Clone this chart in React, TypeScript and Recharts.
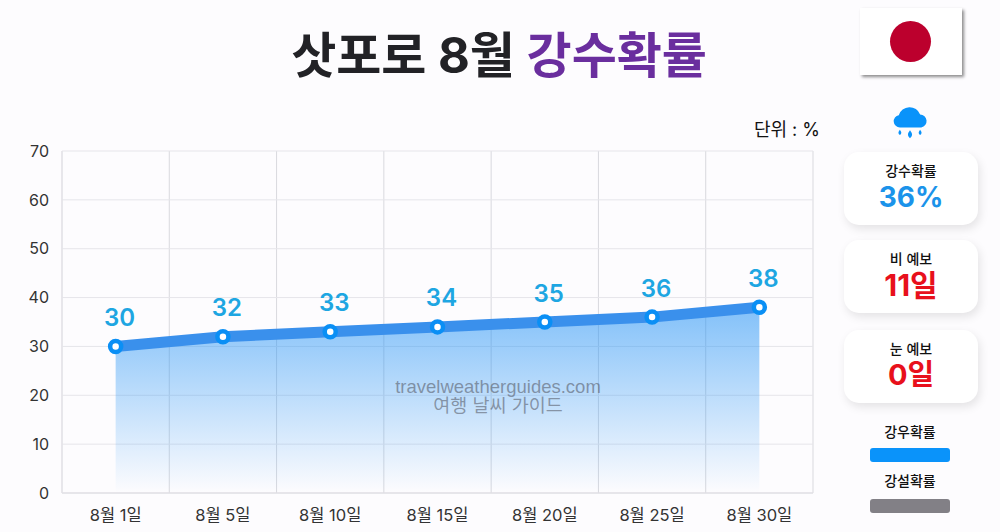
import React from "react";
import {
  ComposedChart,
  Area,
  XAxis,
  YAxis,
  CartesianGrid,
  LabelList,
} from "recharts";

const DAYS = ["8월 1일", "8월 5일", "8월 10일", "8월 15일", "8월 20일", "8월 25일", "8월 30일"];
const RAIN_PROB = [30, 32, 33, 34, 35, 36, 38];
const Y_TICKS = [0, 10, 20, 30, 40, 50, 60, 70];

const CARD_TITLES = ["강수확률", "비 예보", "눈 예보"];
const CARD_VALUES = ["36%", "11일", "0일"];
const CARD_COLORS = ["#1b93ea", "#e8101c", "#e8101c"];
const CARD_TOPS = [152, 240, 330];
const CARD_SIZES = [28, 30, 29];

const LEGEND_NAMES = ["강우확률", "강설확률"];
const LEGEND_COLORS = ["#0a93fa", "#828086"];
const LEGEND_TOPS = [421, 470];

const FONT = 'Inter, "Noto Sans CJK KR", sans-serif';

const data = DAYS.map((day, i) => ({ day, value: RAIN_PROB[i] }));

function ValueLabel(props: any) {
  const { x, y, value } = props;
  return (
    <text
      x={x + 4}
      y={y - 29}
      textAnchor="middle"
      dominantBaseline="central"
      fontFamily={FONT}
      fontSize={24}
      fontWeight={600}
      fill="#1ea6e2"
    >
      {value}
    </text>
  );
}

function RainIcon() {
  return (
    <svg
      width="36"
      height="36"
      viewBox="0 0 32 32"
      style={{ position: "absolute", left: 892, top: 105 }}
    >
      <path
        d="M7 20 a5.5 5.5 0 0 1 -1 -10.9 a10 10 0 0 1 19 -0.6 a5.8 5.8 0 0 1 1 11.5 Z"
        fill="#0a93fa"
      />
      <path d="M7 22 q-2.6 3.2 0 4.6 q2.6 -1.4 0 -4.6 Z" fill="#0a93fa" />
      <path d="M16 22.5 q-3.6 4.4 0 7 q3.6 -2.6 0 -7 Z" fill="#0a93fa" />
      <path d="M25 22 q-2.6 3.2 0 4.6 q2.6 -1.4 0 -4.6 Z" fill="#0a93fa" />
    </svg>
  );
}

export default function App() {
  return (
    <div
      style={{
        position: "absolute",
        left: 0,
        top: 0,
        width: 1000,
        height: 532,
        overflow: "hidden",
        background: "#fdfcfe",
        fontFamily: FONT,
      }}
    >
      <div
        style={{
          position: "absolute",
          left: 0,
          top: 22,
          width: 998,
          textAlign: "center",
          fontSize: 49,
          lineHeight: "68px",
          fontWeight: 700,
          color: "#222226",
          whiteSpace: "nowrap",
        }}
      >
        삿포로 8월 <span style={{ color: "#6a2e9e" }}>강수확률</span>
      </div>

      <div
        style={{
          position: "absolute",
          right: 180,
          top: 117,
          fontSize: 18,
          lineHeight: "26px",
          color: "#111",
        }}
      >
        단위 : %
      </div>

      <ComposedChart
        width={1000}
        height={532}
        data={data}
        margin={{ top: 151, right: 187, bottom: 9, left: 0 }}
        style={{ position: "absolute", left: 0, top: 0 }}
      >
        <defs>
          <linearGradient id="rainFill" x1="0" y1="0" x2="0" y2="1">
            <stop offset="0%" stopColor="#1e90f5" stopOpacity={0.55} />
            <stop offset="100%" stopColor="#1e90f5" stopOpacity={0} />
          </linearGradient>
        </defs>
        <CartesianGrid
          horizontal={false}
          stroke="#d9d9de"
          strokeWidth={1}
          verticalCoordinatesGenerator={({ offset }: any) =>
            [0, 1, 2, 3, 4, 5, 6, 7].map(
              (i) => offset.left + (i * offset.width) / DAYS.length
            )
          }
        />
        <CartesianGrid vertical={false} stroke="#e6e5ea" strokeWidth={1} />
        <XAxis
          dataKey="day"
          scale="band"
          height={30}
          tickLine={false}
          axisLine={{ stroke: "#dcdbe0" }}
          tick={{ fill: "#333", fontSize: 16.5, fontFamily: FONT }}
          tickMargin={10}
          interval={0}
        />
        <YAxis
          width={62}
          domain={[0, 70]}
          ticks={Y_TICKS}
          tickLine={false}
          axisLine={{ stroke: "#e4e3e8" }}
          tick={{ fill: "#333", fontSize: 16, fontFamily: FONT }}
          tickMargin={7}
        />
        <Area
          type="linear"
          dataKey="value"
          stroke="#3a90ec"
          strokeWidth={11}
          fill="url(#rainFill)"
          fillOpacity={1}
          dot={{ r: 5.5, fill: "#fff", stroke: "#0a8ff5", strokeWidth: 4.5, fillOpacity: 1 }}
          activeDot={false}
          isAnimationActive={false}
        >
          <LabelList dataKey="value" content={ValueLabel} />
        </Area>
      </ComposedChart>

      <div
        style={{
          position: "absolute",
          left: 298,
          top: 378,
          width: 400,
          textAlign: "center",
          fontSize: 18.5,
          lineHeight: "18px",
          color: "rgba(70,70,80,0.5)",
        }}
      >
        <div style={{ fontFamily: '"Liberation Sans", sans-serif' }}>travelweatherguides.com</div>
        <div>여행 날씨 가이드</div>
      </div>

      <div
        style={{
          position: "absolute",
          left: 860,
          top: 8,
          width: 102,
          height: 67,
          background: "#fff",
          boxShadow: "2px 2px 3px rgba(0,0,0,0.45)",
        }}
      >
        <div
          style={{
            position: "absolute",
            left: 30,
            top: 13,
            width: 41,
            height: 41,
            borderRadius: "50%",
            background: "#bc002d",
          }}
        />
      </div>

      <RainIcon />

      {CARD_TITLES.map((title, i) => (
        <div
          key={title}
          style={{
            position: "absolute",
            left: 844,
            top: CARD_TOPS[i],
            width: 134,
            height: 73,
            borderRadius: 15,
            background: "#fff",
            boxShadow: "2px 4px 10px rgba(0,0,0,0.1)",
            textAlign: "center",
          }}
        >
          <div
            style={{
              marginTop: 10,
              fontSize: 14,
              lineHeight: "18px",
              fontWeight: 500,
              color: "#111",
            }}
          >
            {title}
          </div>
          <div
            style={{
              fontSize: CARD_SIZES[i],
              lineHeight: "34px",
              fontWeight: 700,
              color: CARD_COLORS[i],
            }}
          >
            {CARD_VALUES[i]}
          </div>
        </div>
      ))}

      {LEGEND_NAMES.map((name, i) => (
        <div key={name}>
          <div
            style={{
              position: "absolute",
              left: 850,
              top: LEGEND_TOPS[i],
              width: 120,
              textAlign: "center",
              fontSize: 14,
              lineHeight: "22px",
              fontWeight: 500,
              color: "#111",
            }}
          >
            {name}
          </div>
          <div
            style={{
              position: "absolute",
              left: 870,
              top: LEGEND_TOPS[i] + 27 + i * 2,
              width: 80,
              height: 14,
              borderRadius: 3,
              background: LEGEND_COLORS[i],
            }}
          />
        </div>
      ))}
    </div>
  );
}
